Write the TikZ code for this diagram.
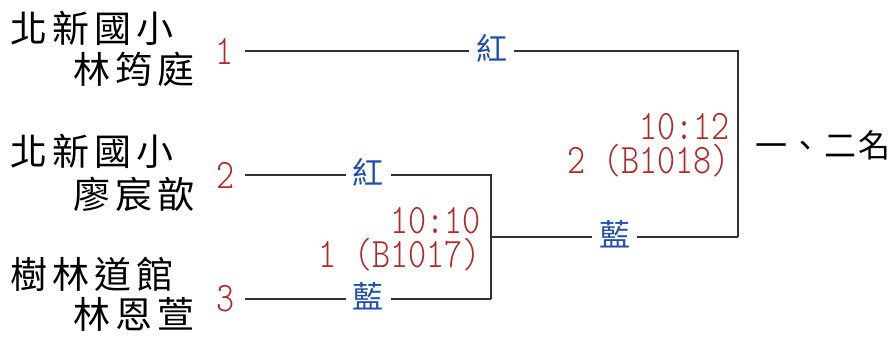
\documentclass[tikz,border=0pt]{standalone}
\usepackage{fontspec}
\newfontfamily\cjkname[LetterSpace=14]{Noto Sans CJK TC}
\newfontfamily\cjkrank[LetterSpace=8]{Noto Sans CJK TC}
\newfontfamily\cjk{Noto Sans CJK TC}
\newfontfamily\numfont[FakeStretch=0.82]{lmmonolt10-regular.otf}
\definecolor{numred}{RGB}{176,40,40}
\definecolor{labblue}{RGB}{32,80,170}
\definecolor{linegray}{RGB}{50,50,50}
\tikzset{
  team/.style={inner sep=0pt, anchor=base west, font=\cjkname\fontsize{37}{37}\selectfont},
  seednum/.style={inner sep=0pt, text=numred, font=\numfont\fontsize{42}{42}\selectfont},
  score/.style={inner sep=0pt, anchor=base east, text height=27pt, text depth=3pt, text=numred, font=\numfont\fontsize{42}{42}\selectfont},
  lab/.style={fill=white, inner xsep=7pt, inner ysep=0pt, yshift=3pt, text=labblue, font=\cjk\fontsize{31}{31}\selectfont},
  bline/.style={draw=linegray, line width=1.4pt},
}
\begin{document}
\begin{tikzpicture}[x=1pt,y=-1pt]
\useasboundingbox (0,0) rectangle (891,340);
% teams
\node[team] (t1a) at (10,42.5) {北新國小};
\node[team] (t1b) at (73,83) {林筠庭};
\node[team] (t2a) at (10,165) {北新國小};
\node[team] (t2b) at (73,208) {廖宸歆};
\node[team] (t3a) at (10,288) {樹林道館};
\node[team] (t3b) at (73,328) {林恩萱};
% seed numbers
\node[seednum] (n1) at (225,51) {1};
\node[seednum] (n2) at (226,175) {2};
\node[seednum] (n3) at (226,299) {3};
% coordinates
\coordinate (s1) at (245,51);
\coordinate (c1) at (738,51);
\coordinate (f) at (738,237);
\coordinate (s2) at (245,175);
\coordinate (c2) at (491,175);
\coordinate (s3) at (245,299);
\coordinate (c3) at (491,299);
\coordinate (m) at (491,237);
% bracket lines
\draw[bline] (s1) -- node[lab] (l1) {紅} (c1) -- (f);
\draw[bline] (s2) -- node[lab] (l2) {紅} (c2) -- (c3);
\draw[bline] (s3) -- node[lab] (l3) {藍} (c3);
\draw[bline] (m) -- node[lab] (l4) {藍} (f);
% scores
\node[score] (sa1) at (481,233) {10:10};
\node[score] (sa2) at (481,267) {1 (B1017)};
\node[score] (sb1) at (730,139) {10:12};
\node[score] (sb2) at (730,173) {2 (B1018)};
% result
\node[inner sep=0pt, anchor=base west, font=\cjkrank\fontsize{32}{32}\selectfont] (rank) at (755,157) {一、二名};
\end{tikzpicture}
\end{document}
